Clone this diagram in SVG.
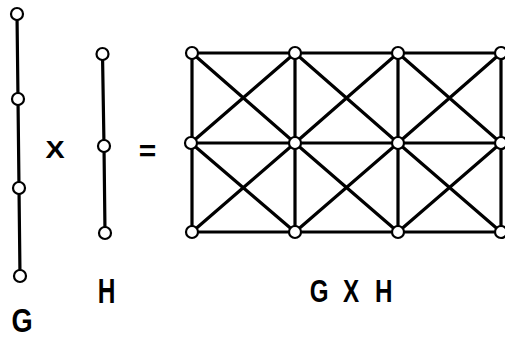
<svg xmlns="http://www.w3.org/2000/svg" width="505" height="337" viewBox="0 0 505 337">
<style>
.e{stroke:#000;stroke-width:3.2;stroke-linecap:round;fill:none}
.n{fill:#fff;stroke:#000;stroke-width:2.2}
.t{font-family:"Liberation Sans",Arial,sans-serif;font-weight:bold;fill:#000;text-anchor:middle}
</style>
<rect width="505" height="337" fill="#fff"/>
<g id="connectors">
<path class="e" d="M17,14 L18,99 L19,188 L20,276"/>
<path class="e" d="M102.5,54 L104,146 L105,233"/>
<path class="e" d="M192,53 H501 M191,143 H501 M192,232 H501"/>
<path class="e" d="M192,53 V232 M295,53 V232 M398,52 V231 M501,52 V231"/>
<path class="e" d="M192,53 L295,143 L192,232 M191,143 L295,53 M191,143 L295,232"/>
<path class="e" d="M295,53 L398,143 L295,232 M295,143 L398,53 M295,143 L398,232"/>
<path class="e" d="M398,53 L501,143 L398,232 M398,143 L501,53 M398,143 L501,232"/>
</g>
<g id="G">
<circle class="n" cx="17" cy="14" r="6"/>
<circle class="n" cx="18" cy="99" r="6"/>
<circle class="n" cx="19" cy="188" r="6"/>
<circle class="n" cx="20" cy="276" r="6"/>
<text class="t" font-size="34" transform="translate(22,332) scale(0.8,1)">G</text>
</g>
<g id="H">
<circle class="n" cx="102.5" cy="54" r="6"/>
<circle class="n" cx="104" cy="146" r="6"/>
<circle class="n" cx="105" cy="233" r="6"/>
<text class="t" font-size="35" transform="translate(106.5,303) scale(0.7,1)">H</text>
</g>
<g id="ops">
<text class="t" font-size="23" transform="translate(55,158) scale(1.25,1)">X</text>
<text class="t" font-size="30" transform="translate(147.5,161) scale(1,1)">=</text>
</g>
<g id="GxH">
<circle class="n" cx="192" cy="53" r="6"/>
<circle class="n" cx="295" cy="53" r="6"/>
<circle class="n" cx="398" cy="53" r="6"/>
<circle class="n" cx="501" cy="53" r="6"/>
<circle class="n" cx="191" cy="143" r="6"/>
<circle class="n" cx="295" cy="143" r="6"/>
<circle class="n" cx="398" cy="143" r="6"/>
<circle class="n" cx="501" cy="143" r="6"/>
<circle class="n" cx="192" cy="232" r="6"/>
<circle class="n" cx="295" cy="232" r="6"/>
<circle class="n" cx="398" cy="232" r="6"/>
<circle class="n" cx="501" cy="232" r="6"/>
<text class="t" font-size="31" transform="translate(351,302) scale(0.78,1)"><tspan x="-41">G</tspan><tspan x="0"> X </tspan><tspan x="42">H</tspan></text>
</g>
</svg>
